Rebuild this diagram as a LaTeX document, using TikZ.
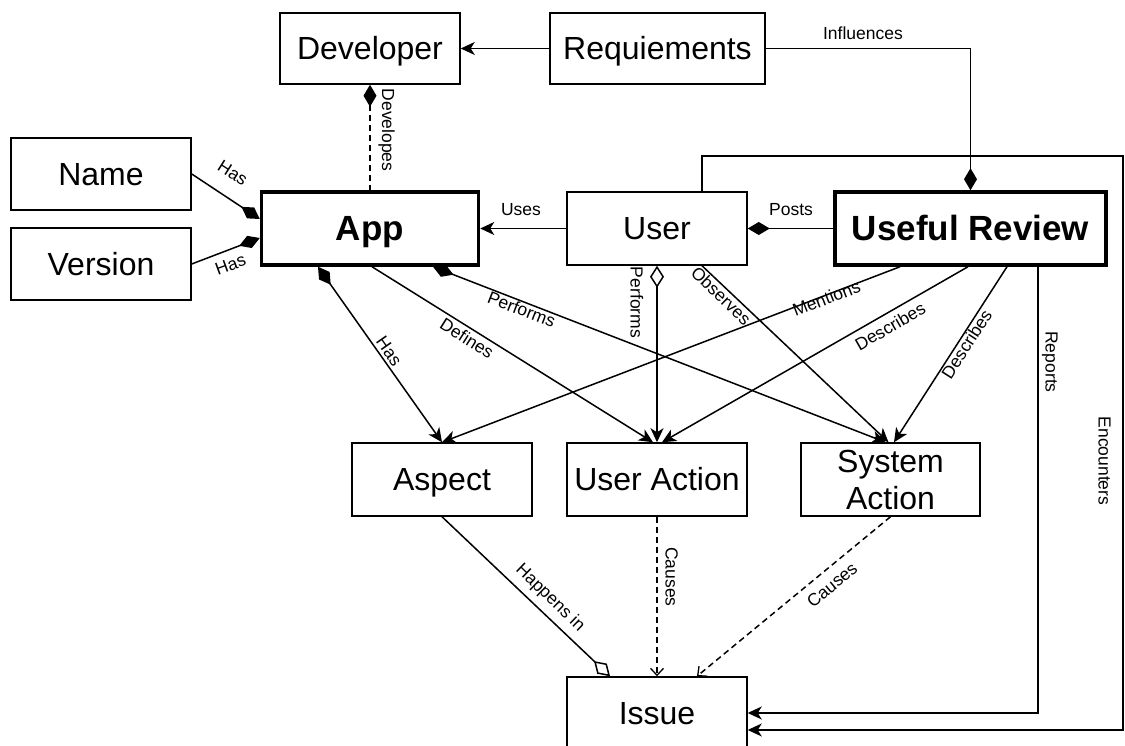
\documentclass[tikz,border=0pt]{standalone}
\usepackage{fontspec}
\setmainfont{Liberation Sans}
\usetikzlibrary{arrows.meta,calc}
\begin{document}
\begin{tikzpicture}[x=1pt,y=1pt,
  box/.style={draw, line width=1.5pt, minimum width=180pt, minimum height=72pt, inner sep=0pt,
    font=\fontsize{32}{37}\selectfont, text height=23pt, text depth=0pt, align=center},
  bbox/.style={box, line width=3.5pt, font=\fontsize{35}{40}\selectfont\bfseries, text height=25pt},
  lbl/.style={font=\fontsize{17.5}{20}\selectfont, inner sep=0pt, text height=12.5pt, text depth=3.5pt, anchor=center},
  conn/.style={line width=1.5pt},
  arr/.style={-{Stealth[length=14pt,width=13pt,inset=4pt]}},
  fdia/.style={{Diamond[length=22pt,width=13pt]}-},
  fdiaend/.style={-{Diamond[length=22pt,width=13pt]}},
  odia/.style={{Diamond[open,length=22pt,width=14pt,line width=1.5pt]}-{Stealth[length=14pt,width=13pt,inset=4pt]}},
  odiaend/.style={-{Diamond[open,length=22pt,width=14pt,line width=1.5pt]}},
  fdiarr/.style={{Diamond[length=22pt,width=13pt]}-{Stealth[length=14pt,width=13pt,inset=4pt]}},
  dsh/.style={dash pattern=on 6pt off 4pt},
  openarr/.style={-{Straight Barb[length=7pt,width=13pt,line width=1.3pt]}}
]
\useasboundingbox (0,0) rectangle (1125,746);
\fill[white] (0,0) rectangle (1125,746);

% nodes
\node[box, minimum height=71pt] (dev) at (370,697.5) {Developer};
\node[box, minimum width=215pt, minimum height=71pt] (req) at (657.5,697.5) {Requiements};
\node[box] (name) at (101,572) {Name};
\node[box] (ver) at (101,482) {Version};
\node[bbox, minimum width=217pt, minimum height=73pt] (app) at (370,517.5) {App};
\node[box, minimum height=73pt] (user) at (657,517.5) {User};
\node[bbox, minimum width=271pt, minimum height=73pt] (ur) at (970.5,517.5) {Useful Review};
\node[box, minimum height=73pt] (asp) at (442,266.5) {Aspect};
\node[box, minimum height=73pt] (ua) at (657,266.5) {User Action};
\node[box, minimum width=179pt, minimum height=73pt, text height=60pt] (sa) at (890.5,266.5) {System\\Action};
\node[box] (iss) at (657,33) {Issue};

\coordinate (encTop) at (1123,590);

% connectors
\draw[conn, arr] (req.west) -- (dev.east);
\draw[conn, fdiaend] (req.east) -| (ur.north);
\draw[conn, dsh, fdia] (dev.south) -- (app.north);
\draw[conn, fdiaend] (name.east) -- ($(app.west)+(0,9.5)$);
\draw[conn, fdiaend] (ver.east) -- ($(app.west)+(0,-9.5)$);
\draw[conn, arr] (user.west) -- (app.east);
\draw[conn, fdiaend] (ur.west) -- (user.east);
\draw[conn, fdiarr] ($(app.south)+(-52,0)$) -- (asp.north);
\draw[conn, arr] ($(app.south)+(2,0)$) -- ($(ua.north)+(-4,0)$);
\draw[conn, fdiarr] ($(app.south)+(63,0)$) -- ($(sa.north)+(-5,0)$);
\draw[conn, odia] (user.south) -- (ua.north);
\draw[conn, arr] ($(user.south)+(45,0)$) -- ($(sa.north)+(-2,0)$);
\draw[conn, arr] ($(ur.south)+(-70.5,0)$) -- (asp.north);
\draw[conn, arr] ($(ur.south)+(-2.5,0)$) -- ($(ua.north)+(5,0)$);
\draw[conn, arr] ($(ur.south)+(36.5,0)$) -- ($(sa.north)+(3.5,0)$);
\draw[conn, arr] ($(ur.south)+(67.5,0)$) |- (iss.east);
\draw[conn, arr] ($(user.north)+(45,0)$) |- (encTop) |- ($(iss.east)+(0,-17)$);
\draw[conn, odiaend] (asp.south) -- ($(iss.north)+(-47,0)$);
\draw[conn, dsh, openarr] (ua.south) -- (iss.north);
\draw[conn, dsh, openarr] (sa.south) -- ($(iss.north)+(40,0)$);

% labels
\node[lbl] (lInf) at (863,711) {Influences};
\node[lbl] (lUses) at (521,535) {Uses};
\node[lbl] (lPosts) at (791,535) {Posts};
\node[lbl, rotate=-90] (lDev) at (386.5,616) {Developes};
\node[lbl, rotate=-32.5] (lHas1) at (232,572) {Has};
\node[lbl, rotate=20] (lHas2) at (231,480) {Has};
\node[lbl, rotate=-55] (lHas3) at (388,394) {Has};
\node[lbl, rotate=-32.3] (lDef) at (466,406) {Defines};
\node[lbl, rotate=-21.1] (lPerf1) at (521,435) {Performs};
\node[lbl, rotate=-90] (lPerf2) at (635,443.5) {Performs};
\node[lbl, rotate=-43.7] (lObs) at (720,449) {Observes};
\node[lbl, rotate=21.1] (lMen) at (827,446) {Mentions};
\node[lbl, rotate=29.9] (lDes1) at (891,418) {Describes};
\node[lbl, rotate=57.3] (lDes2) at (968,401) {Describes};
\node[lbl, rotate=-90] (lRep) at (1050,384) {Reports};
\node[lbl, rotate=-90] (lEnc) at (1103,285) {Encounters};
\node[lbl, rotate=-44] (lHap) at (550,148) {Happens in};
\node[lbl, rotate=-90] (lCau1) at (670,169) {Causes};
\node[lbl, rotate=39.8] (lCau2) at (833,160) {Causes};
\end{tikzpicture}
\end{document}
